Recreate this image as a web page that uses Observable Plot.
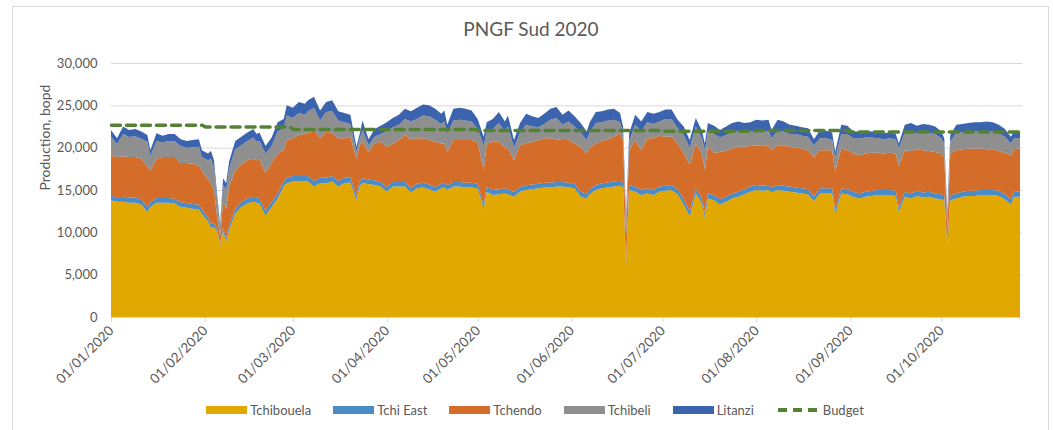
<!DOCTYPE html>
<html>
<head>
<meta charset="utf-8">
<script src="https://cdn.jsdelivr.net/npm/d3@7"></script>
<script src="https://cdn.jsdelivr.net/npm/@observablehq/plot@0.6"></script>
<style>
  html, body { margin: 0; padding: 0; background: #fff; }
  #wrap { position: relative; width: 1053px; height: 430px; overflow: hidden; background: #fff;
          font-family: Lato, "Open Sans", sans-serif; color: #595959; }
  #frame { position: absolute; left: 12px; top: 6px; width: 1037px; height: 440px;
           border: 1px solid #d9d9d9; box-sizing: border-box; }
  #title { position: absolute; left: 0; top: 17px; width: 1062px; text-align: center; font-size: 19px; }
  #chart { position: absolute; left: 0; top: 0; }
  #legend { position: absolute; left: 0; top: 402px; width: 1070px; display: flex; justify-content: center;
            align-items: center; font-size: 13px; }
  .item { display: flex; align-items: center; margin: 0 11px; }
  .sw { display: inline-block; width: 41px; height: 8px; margin-right: 3px; }
</style>
</head>
<body>
<div id="wrap">
  <div id="frame"></div>
  <div id="chart"></div>
  <div id="title">PNGF Sud 2020</div>
  <div id="legend"></div>
</div>
<script>
// ---- data (days since 01/01/2020, bopd) ----
const days = [
  0,2,4,6,8,10,12,13,15,17,19,21,23,25,27,29,30,
  32,33,34,35,36,37,38,39,41,43,45,47,48,49,51,53,55,57,58,
  60,62,64,65,67,69,71,73,75,77,79,81,82,83,85,87,89,
  91,93,95,97,99,101,103,105,107,109,110,111,113,115,117,119,
  121,123,124,126,128,130,131,133,135,137,139,141,143,145,147,149,151,
  153,155,157,158,160,162,164,166,168,169,170,171,173,175,177,179,
  181,183,185,187,189,191,193,195,196,197,199,201,203,205,207,209,211,
  213,215,217,218,220,222,224,226,228,230,232,234,236,238,239,241,243,
  245,247,249,251,253,255,257,259,260,262,264,266,268,270,272,
  274,275,276,277,279,281,283,285,287,289,291,293,295,297,298,300
];
const tchibouela = [
  13800,13600,13600,13500,13500,13300,12400,13000,13500,13500,13500,13400,13000,12900,12800,12700,12200,
  11300,10500,10600,10100,8500,10100,8900,10300,12200,13000,13400,13600,13500,13400,12000,13000,14000,15400,15800,
  16000,16000,16000,16000,15400,15800,15800,16000,15400,15800,15900,13800,15400,15800,15700,15600,15400,
  14800,15400,15400,15400,14700,15200,15300,15100,14800,15200,15300,15000,15400,15400,15300,15300,
  15200,12800,14800,14400,14500,14600,14500,14200,14800,15000,15100,15200,15300,15300,15400,15400,15300,
  15200,14200,14000,14500,15000,15200,15300,15400,15500,15300,6300,15000,14800,14400,14600,14400,
  14800,14900,15000,14500,13300,11900,14600,13400,11700,14000,13800,13300,13600,14000,14200,14500,14800,
  15000,14900,15000,14700,15000,14900,14800,14700,14600,14500,13700,14600,14600,14600,12100,14600,14500,
  14200,14000,14200,14300,14400,14400,14400,14300,12400,14200,14000,14300,14100,14200,14000,
  13900,13800,8500,13800,14000,14200,14300,14300,14400,14400,14400,14300,13900,13300,14200,14200
];
const tchiEast = [
  550,550,600,600,600,600,550,550,550,550,550,550,550,550,550,550,500,
  500,500,450,300,200,400,400,500,550,600,600,600,600,600,550,600,600,600,650,
  650,650,650,650,650,650,650,650,650,650,650,500,600,600,550,550,550,
  550,550,550,550,550,550,550,550,550,550,550,550,550,550,550,550,
  550,450,550,600,600,600,600,550,550,550,550,550,550,550,550,550,550,
  550,600,600,600,600,600,600,600,600,550,200,550,600,600,600,600,
  600,600,600,600,600,550,600,600,550,600,600,600,600,600,600,600,600,
  600,600,600,600,600,600,600,600,600,600,550,600,600,600,500,600,600,
  600,600,600,600,600,600,600,600,500,600,600,600,600,600,600,
  600,550,200,550,600,600,600,600,600,600,600,600,600,600,600,600
];
const tchendo = [
  4750,4750,4800,4800,4800,4800,4850,3750,4650,4850,4850,4950,4650,4750,4750,4650,4600,
  4400,4800,3950,1500,800,3100,3500,4600,4550,4400,4500,4500,4400,4600,4450,4600,4700,3700,4450,
  4450,4850,4950,5050,6050,4650,5450,5050,5050,4650,4750,4400,4300,4300,3250,4350,4750,
  4750,4550,4950,5550,5750,5350,5250,5250,5350,4750,4650,3950,4950,4950,5050,5050,
  4850,4150,5150,5700,5600,4800,4800,3750,4950,4950,5050,5150,5250,5250,5050,4950,5050,
  4750,5300,4700,4900,4900,5000,5100,5300,5600,4950,3000,4150,5500,4700,5900,6100,
  6000,5800,5700,5400,5500,5550,5300,5300,5150,5500,5000,5600,5400,5300,5300,5000,4800,
  4700,4700,4700,4400,4700,4800,4700,4700,4700,4600,4650,4500,4500,4500,4600,4700,4600,
  4500,4500,4500,4500,4400,4300,4400,4400,5000,4900,5000,4900,5000,4800,4900,
  4800,4550,1800,4950,5100,5000,5000,5000,4900,4800,4800,4700,4900,5200,5000,5100
];
const tchibeli = [
  2200,1500,2600,2350,2450,2350,2900,1700,2100,1700,1900,1850,2000,1750,1950,2200,1600,
  2300,2900,2700,2200,1200,2000,2200,2100,2500,2300,2300,2500,2200,2200,2300,2000,2600,2600,2900,
  2400,2600,2300,2600,2600,2100,2300,2600,2100,1900,1500,800,600,1400,800,800,900,
  1800,1900,1800,1900,2100,2300,2700,2800,2600,2300,2600,2100,2300,2400,2300,2200,
  1600,2900,1400,1500,2200,1900,2600,1500,1500,2200,1800,1500,1700,2200,2500,1800,2200,
  2000,1700,1600,1800,2400,2200,2200,2000,1300,800,2100,1100,1800,2200,1900,1700,
  1700,2100,2100,1800,2100,2000,2000,1800,2300,1800,2200,1700,1900,1900,1800,1700,1700,
  1700,1700,1700,1400,1700,1600,1500,1600,1500,1600,1400,1400,1400,1200,1600,1700,1900,
  1800,2000,1900,1800,1700,1700,1700,1700,2000,2100,2300,1900,2100,2100,2100,
  1800,1600,1600,1400,2100,2000,2000,2000,2000,2100,2100,2100,1900,1400,1300,1200
];
const litanzi = [
  800,700,900,850,850,850,800,700,900,800,800,850,800,850,850,900,800,
  800,900,800,500,300,800,800,900,1000,1000,1000,1000,900,1000,900,1000,1100,1100,1200,
  1200,1300,1300,1300,1300,1200,1200,1300,1100,1100,1100,600,600,1100,700,900,1000,
  1100,1100,1200,1200,1200,1300,1300,1300,1300,1200,1300,1100,1400,1400,1400,1300,
  1200,1000,1100,1200,1300,1200,1300,900,1100,1300,1200,1100,1200,1300,1300,1200,1300,
  1200,1100,1000,1200,1300,1300,1300,1300,1100,900,400,900,1200,1200,1200,1200,
  1100,1100,1100,1000,1000,900,1000,900,800,1000,1000,900,1000,1100,1200,1100,1100,
  1300,1300,1300,1000,1300,1200,1100,1000,1000,1000,700,1000,900,900,700,1100,1000,
  800,800,800,700,700,700,700,600,600,900,1000,900,1000,1000,900,
  800,600,400,800,900,1000,1000,1100,1100,1200,1100,1000,900,800,800,800
];
const budgetMonths = ["2020-01","2020-02","2020-03","2020-04","2020-05","2020-06","2020-07","2020-08","2020-09","2020-10"];
const budgetValues = [22700,22500,22200,22200,22100,22100,22000,22100,21900,21900];
const seriesNames = ["Tchibouela","Tchi East","Tchendo","Tchibeli","Litanzi"];
const seriesColors = ["#E0A800","#4B8BC6","#D46C2A","#8F8F8F","#3C63AD"];
const budgetColor = "#548235";
const yTicks = [0,5000,10000,15000,20000,25000,30000];

// ---- build tables ----
const start = new Date(Date.UTC(2020,0,1));
const lastDate = d3.utcDay.offset(start, days[days.length-1]);
const cols = [tchibouela, tchiEast, tchendo, tchibeli, litanzi];
const rows = [];
seriesNames.forEach((name,i) => {
  if (cols[i].length !== days.length) throw new Error(name + " length " + cols[i].length + " vs " + days.length);
  days.forEach((d,j) => rows.push({date: d3.utcDay.offset(start,d), series: name, value: cols[i][j]}));
});
const budget = [];
budgetMonths.forEach((m,i) => {
  const s = new Date(m + "-01T00:00:00Z");
  let e = d3.utcDay.offset(d3.utcMonth.offset(s,1), -1);
  if (e > lastDate) e = lastDate;
  budget.push({date: s, value: budgetValues[i]}, {date: e, value: budgetValues[i]});
});
const xTicks = d3.utcMonth.range(start, lastDate);

const chart = Plot.plot({
  width: 1053, height: 430,
  marginLeft: 111, marginRight: 31, marginTop: 63, marginBottom: 113,
  style: {fontFamily: "Lato, 'Open Sans', sans-serif", fontSize: "13px", color: "#595959", background: "transparent", overflow: "visible"},
  x: {type: "utc", domain: [start, lastDate], range: [111, 1020]},
  y: {domain: [0, 30000]},
  color: {domain: seriesNames, range: seriesColors},
  marks: [
    Plot.gridY(yTicks, {stroke: "#d9d9d9", strokeOpacity: 1}),
    Plot.areaY(rows, {x: "date", y: "value", fill: "series", order: seriesNames, curve: "linear"}),
    Plot.line(budget, {x: "date", y: "value", stroke: budgetColor, strokeWidth: 3.5, strokeDasharray: "9,6"}),
    Plot.axisY(yTicks, {tickSize: 0, tickPadding: 14, tickFormat: d3.format(","), fill: "#595959", fontSize: 13, label: null}),
    Plot.axisX(xTicks, {tickSize: 5, stroke: "#d9d9d9", fill: "#595959", tickRotate: -45, tickPadding: 6,
                        tickFormat: d3.utcFormat("%d/%m/%Y"), fontSize: 13.5, label: null}),
    Plot.text(["Production, bopd"], {frameAnchor: "left", dx: -66, rotate: -90, fontSize: 14, fill: "#595959"})
  ]
});
document.getElementById("chart").appendChild(chart);

// ---- legend ----
const legend = document.getElementById("legend");
seriesNames.forEach((name,i) => {
  const it = document.createElement("div"); it.className = "item";
  const sw = document.createElement("span"); sw.className = "sw"; sw.style.background = seriesColors[i];
  const tx = document.createElement("span"); tx.textContent = name;
  it.appendChild(sw); it.appendChild(tx); legend.appendChild(it);
});
{
  const it = document.createElement("div"); it.className = "item";
  it.innerHTML = `<svg width="44" height="8" style="margin-right:3px"><line x1="2" x2="42" y1="4" y2="4" stroke="${budgetColor}" stroke-width="4" stroke-dasharray="9,6"/></svg><span>Budget</span>`;
  legend.appendChild(it);
}
</script>
</body>
</html>
